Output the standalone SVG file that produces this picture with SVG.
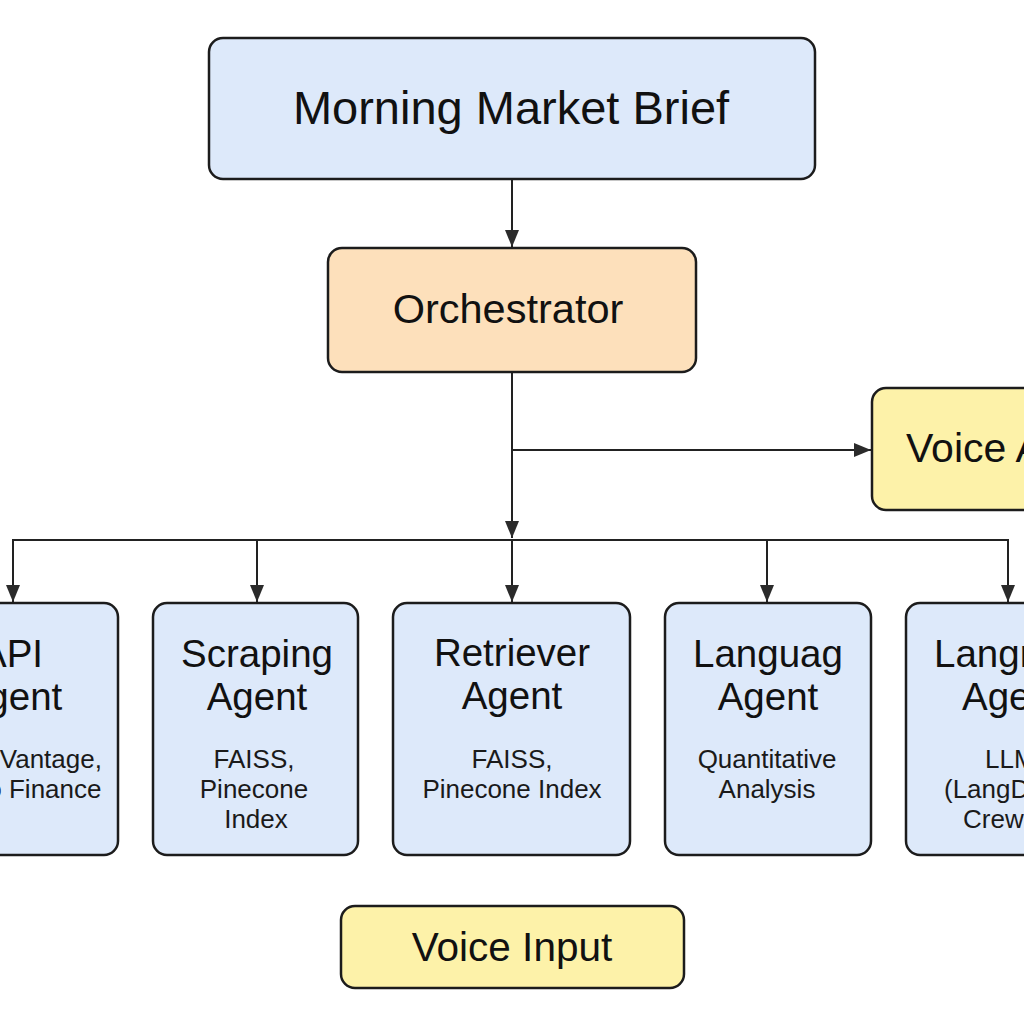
<svg xmlns="http://www.w3.org/2000/svg" width="1024" height="1024" viewBox="0 0 1024 1024">
  <style>
    .box { stroke: #1c1c1c; stroke-width: 2.5; }
    .blue { fill: #dde9fa; }
    .orange { fill: #fde0bb; }
    .yellow { fill: #fdf2a9; }
    .title { font-family: "Liberation Sans", Arial, sans-serif; fill: #111; text-anchor: middle; }
    .name { font-family: "Liberation Sans", Arial, sans-serif; font-size: 38.5px; fill: #111; text-anchor: middle; }
    .sub { font-family: "Liberation Sans", Arial, sans-serif; font-size: 26px; fill: #1a1a1a; text-anchor: middle; }
    .left { text-anchor: start; }
    .conn { stroke: #222; stroke-width: 2; fill: none; }
  </style>
  <defs>
    <marker id="arrow" markerUnits="userSpaceOnUse" markerWidth="18" markerHeight="16" refX="17" refY="8" orient="auto">
      <path d="M0,1 L17,8 L0,15 Z" fill="#2b2b2b"/>
    </marker>
  </defs>
  <rect width="1024" height="1024" fill="#ffffff"/>

  <g id="connectors">
    <line class="conn" x1="512" y1="180" x2="512" y2="247" marker-end="url(#arrow)"/>
    <line class="conn" x1="512" y1="373" x2="512" y2="538" marker-end="url(#arrow)"/>
    <line class="conn" x1="512" y1="450" x2="871" y2="450" marker-end="url(#arrow)"/>
    <line class="conn" x1="13" y1="540" x2="1008" y2="540"/>
    <line class="conn" x1="13" y1="539" x2="13" y2="602" marker-end="url(#arrow)"/>
    <line class="conn" x1="257" y1="539" x2="257" y2="602" marker-end="url(#arrow)"/>
    <line class="conn" x1="512" y1="539" x2="512" y2="602" marker-end="url(#arrow)"/>
    <line class="conn" x1="767" y1="539" x2="767" y2="602" marker-end="url(#arrow)"/>
    <line class="conn" x1="1008" y1="539" x2="1008" y2="602" marker-end="url(#arrow)"/>
  </g>

  <g id="morning-market-brief">
    <rect class="box blue" x="209" y="38" width="606" height="141" rx="14"/>
    <text class="title" x="511" y="124" font-size="47">Morning Market Brief</text>
  </g>

  <g id="orchestrator">
    <rect class="box orange" x="328" y="248" width="368" height="124" rx="14"/>
    <text class="title" x="508" y="323" font-size="41.5">Orchestrator</text>
  </g>

  <g id="voice-agent">
    <rect class="box yellow" x="872" y="388" width="180" height="122" rx="14"/>
    <text class="title left" x="906" y="462" font-size="41">Voice A</text>
  </g>

  <g id="api-agent">
    <rect class="box blue" x="-90" y="603" width="208" height="252" rx="14"/>
    <text class="name" x="12" y="667">API</text>
    <text class="name" x="12" y="710">Agent</text>
    <text class="sub" x="14" y="768">Alpha Vantage,</text>
    <text class="sub" x="15" y="798">Yahoo Finance</text>
  </g>

  <g id="scraping-agent">
    <rect class="box blue" x="153" y="603" width="205" height="252" rx="14"/>
    <text class="name" x="257" y="667">Scraping</text>
    <text class="name" x="257" y="710">Agent</text>
    <text class="sub" x="254" y="768">FAISS,</text>
    <text class="sub" x="254" y="798">Pinecone</text>
    <text class="sub" x="256" y="828">Index</text>
  </g>

  <g id="retriever-agent">
    <rect class="box blue" x="393" y="603" width="237" height="252" rx="14"/>
    <text class="name" x="512" y="666">Retriever</text>
    <text class="name" x="512" y="709">Agent</text>
    <text class="sub" x="512" y="768">FAISS,</text>
    <text class="sub" x="512" y="798">Pinecone Index</text>
  </g>

  <g id="language-agent">
    <rect class="box blue" x="665" y="603" width="206" height="252" rx="14"/>
    <text class="name" x="768" y="667">Languag</text>
    <text class="name" x="768" y="710">Agent</text>
    <text class="sub" x="767" y="768">Quantitative</text>
    <text class="sub" x="767" y="798">Analysis</text>
  </g>

  <g id="langr-agent">
    <rect class="box blue" x="906" y="603" width="200" height="252" rx="14"/>
    <text class="name left" x="934" y="667">Langr</text>
    <text class="name left" x="962" y="710">Agent</text>
    <text class="sub left" x="985" y="768">LLM</text>
    <text class="sub left" x="944" y="798">(LangD</text>
    <text class="sub left" x="963" y="828">Crew</text>
  </g>

  <g id="voice-input">
    <rect class="box yellow" x="341" y="906" width="343" height="82" rx="14"/>
    <text class="title" x="512" y="961" font-size="40.5">Voice Input</text>
  </g>
</svg>
